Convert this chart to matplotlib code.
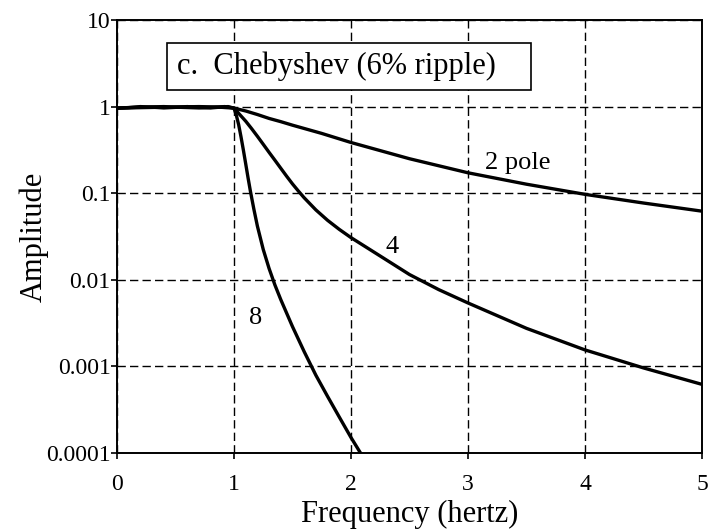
import matplotlib

matplotlib.use("Agg")
import matplotlib.pyplot as plt
from matplotlib.patches import Rectangle
from matplotlib.ticker import FixedLocator, FuncFormatter

plt.rcParams.update(
    {
        "font.family": ["Liberation Serif", "DejaVu Serif"],
        "font.size": 17,
        "axes.linewidth": 1.4,
    }
)

# Values (amplitude vs. frequency in hertz)
freq_2 = [0.0, 0.25, 0.5, 0.7, 0.85, 1.0, 1.1, 1.2, 1.3, 1.4, 1.5, 1.75, 2.0, 2.5,
          3.0, 3.5, 4.0, 4.5, 5.0]
amp_2 = [0.96, 0.975, 0.99, 1.0, 0.99, 0.96, 0.89, 0.81, 0.73, 0.67, 0.61, 0.49,
         0.385, 0.25, 0.172, 0.127, 0.097, 0.077, 0.062]

freq_4 = [0.0, 0.2, 0.4, 0.55, 0.7, 0.85, 0.92, 1.0, 1.05, 1.1, 1.15, 1.2, 1.25,
          1.3, 1.35, 1.4, 1.45, 1.5, 1.55, 1.6, 1.7, 1.8, 1.9, 2.0, 2.25, 2.5,
          2.75, 3.0, 3.5, 4.0, 4.5, 5.0]
amp_4 = [0.96, 0.985, 1.0, 0.98, 0.965, 0.985, 1.0, 0.96, 0.807, 0.679, 0.558,
         0.454, 0.367, 0.296, 0.240, 0.194, 0.157, 0.128, 0.106, 0.0885, 0.0641,
         0.0486, 0.0382, 0.0307, 0.0188, 0.0115, 0.0077, 0.0054, 0.00275,
         0.00155, 0.00096, 0.00062]

freq_8 = [0.0, 0.1, 0.2, 0.3, 0.4, 0.5, 0.6, 0.7, 0.8, 0.9, 0.95, 1.0, 1.02, 1.04,
          1.06, 1.08, 1.1, 1.12, 1.14, 1.17, 1.2, 1.25, 1.3, 1.35, 1.4, 1.5, 1.6,
          1.7, 1.8, 1.9, 2.0, 2.1]
amp_8 = [0.96, 0.975, 1.0, 0.985, 0.965, 0.98, 1.0, 0.98, 0.965, 0.99, 1.0, 0.96,
         0.794, 0.617, 0.447, 0.316, 0.219, 0.151, 0.106, 0.0653, 0.0417, 0.0224,
         0.0135, 0.0087, 0.0059, 0.00288, 0.00148, 0.00079, 0.00045, 0.00026,
         0.000151, 0.000091]

x_ticks = [0, 1, 2, 3, 4, 5]
y_ticks = [0.0001, 0.001, 0.01, 0.1, 1, 10]

fig = plt.figure(figsize=(7.16, 5.29), dpi=100)
ax = fig.add_axes([0.1634, 0.1437, 0.817, 0.8185])

for f, a in [(freq_2, amp_2), (freq_4, amp_4), (freq_8, amp_8)]:
    ax.plot(f, a, color="black", linewidth=2.4, solid_joinstyle="round")

ax.set_yscale("log")
ax.set_xlim(0, 5)
ax.set_ylim(0.0001, 10)
ax.xaxis.set_major_locator(FixedLocator(x_ticks))
ax.yaxis.set_major_locator(FixedLocator(y_ticks))
ax.yaxis.set_minor_locator(FixedLocator([]))
ax.yaxis.set_major_formatter(FuncFormatter(lambda y, _: f"{y:g}"))
ax.tick_params(axis="both", direction="out", length=4, width=1.2, labelsize=17,
               colors="black")
ax.tick_params(axis="x", pad=11)
ax.tick_params(axis="y", pad=0.5)
ax.grid(True, which="major", color="black", linestyle=(0, (6, 3)), linewidth=1.0)

ax.set_xlabel("Frequency (hertz)", fontsize=22, labelpad=4)
ax.set_ylabel("Amplitude", fontsize=22, labelpad=-2)

# Title box
ax.add_patch(
    Rectangle((0.0855, 0.8383), 0.622, 0.1085, transform=ax.transAxes,
              facecolor="white", edgecolor="black", linewidth=1.2, zorder=5)
)
ax.text(0.1026, 0.893, "c.  Chebyshev (6% ripple)", transform=ax.transAxes,
        fontsize=22, ha="left", va="center", zorder=6)

ax.text(3.145, 0.223, "2 pole", fontsize=19, ha="left", va="center")
ax.text(2.35, 0.0239, "4", fontsize=19, ha="center", va="center")
ax.text(1.188, 0.00362, "8", fontsize=19, ha="center", va="center")

fig.savefig("out.png", dpi=100)
